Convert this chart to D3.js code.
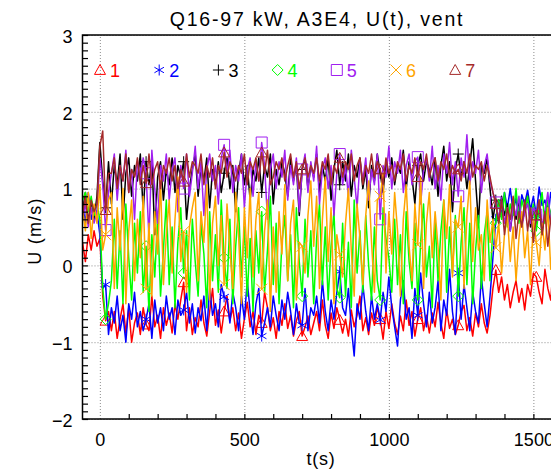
<!DOCTYPE html>
<html><head><meta charset="utf-8">
<script src="https://cdn.jsdelivr.net/npm/d3@7"></script>
<style>body{margin:0;background:#fff} svg{display:block} text{font-family:"Liberation Sans",Arial,sans-serif}</style>
</head><body><svg id="c" width="551" height="471"></svg>
<script>
const title = "Q16-97 kW, A3E4, U(t), vent";
const xLabel = "t(s)";
const yLabel = "U (m/s)";
const seriesNames = ["1","2","3","4","5","6","7"];
const seriesColors = ["#ff0000","#0000ff","#000000","#00ff00","#a020f0","#ffa500","#a52a2a"];
const seriesSymbols = ["triangle","asterisk","plus","diamond","square","cross","triangle"];
const tStart = -60, tStep = 10;
const markerTimes = [20,160,290,430,560,700,830,970,1100,1240,1370,1510];
const xTicks = [0,500,1000,1500];
const yTicks = [-2,-1,0,1,2,3];

const u1 = [
0.30,0.05,0.40,0.20,0.45,0.25,0.35,-0.40,-0.72,-0.60,
-0.85,-0.60,-0.95,-0.70,-0.50,-0.88,-0.55,-1.00,-0.75,-0.62,
-0.90,-0.55,-0.77,-0.85,-0.40,-0.80,-0.65,-0.95,-0.55,-0.78,
-0.62,-0.88,-0.50,-0.70,-0.45,-0.22,-0.85,-0.55,-0.90,-0.68,
-0.80,-0.45,-0.75,-0.92,-0.60,-0.30,-0.78,-0.58,-0.88,-0.60,
-0.40,-0.72,-0.55,-0.85,-0.62,-0.95,-0.70,-0.48,-0.80,-0.60,
-0.90,-0.65,-0.75,-0.35,-0.55,-0.85,-0.68,-0.95,-0.60,-0.78,
-0.50,-0.82,-0.65,-0.92,-0.72,-0.60,-0.92,-0.80,-0.66,-0.90,
-0.75,-0.60,-0.85,-0.45,-0.78,-0.95,-0.62,-0.82,-0.55,-0.71,
-0.88,-0.70,-0.92,-0.58,-0.80,-0.65,-0.40,-0.85,-0.68,-0.90,
-0.62,-0.78,-0.55,-0.70,-0.96,-0.60,-0.82,-0.50,-0.75,-0.90,
-0.66,-0.85,-0.45,-0.78,-0.60,-0.92,-0.70,-0.55,-0.85,-0.65,
-0.88,-0.62,-0.80,-0.48,-0.75,-0.95,-0.58,-0.82,-0.70,-0.90,
-0.78,-0.60,-0.52,-0.85,-0.68,-0.92,-0.62,-0.80,-0.50,-0.75,
-0.88,-0.65,-0.30,-0.06,-0.35,-0.15,-0.45,-0.25,-0.55,-0.35,
-0.20,-0.48,-0.30,-0.58,-0.25,-0.40,-0.10,-0.15,-0.35,-0.50,
-0.05,-0.30,-0.45,0.05];

const u2 = [
0.80,0.55,0.95,0.60,0.75,0.70,0.40,-0.30,-0.25,-0.90,
-0.55,-0.75,-0.40,-0.85,-0.65,-1.00,-0.50,-0.70,-0.35,-0.80,
-0.60,-0.85,-0.70,-0.50,-0.95,-0.45,-0.75,-0.55,-0.85,-0.40,
-0.70,-0.55,-0.90,-0.45,-0.65,-0.58,-0.35,-0.75,-0.50,-0.88,
-0.55,-0.72,-0.40,-0.85,-0.30,-0.65,-0.50,-0.80,-0.25,-0.41,
-0.45,-0.75,-0.35,-0.55,-0.85,-0.40,-0.70,-0.20,-0.60,-0.90,
-0.50,-0.30,-0.92,-0.75,-0.55,-0.80,-0.40,-0.65,-0.85,-0.45,
-0.70,-0.35,-0.60,-0.90,-0.50,-0.75,-0.78,-0.30,-0.85,-0.55,
-0.65,-0.40,-0.75,-0.20,-0.60,-0.85,-0.45,-0.70,-0.35,-0.08,
-0.55,-0.65,-0.30,-0.80,-1.18,-0.50,-0.70,-0.25,-0.60,-0.85,
-0.40,-0.70,-0.50,-0.71,-0.35,-0.60,-0.15,-0.55,-0.80,-1.05,
-0.45,-0.20,-0.70,-0.55,-0.95,-0.30,-0.65,-0.10,-0.50,-0.80,
-0.35,-0.75,-0.55,-0.20,-0.85,-0.45,-0.65,-0.05,-0.60,-0.90,
-0.10,-0.70,-0.25,-0.55,-0.85,-0.35,-0.60,-0.75,-0.15,-0.50,
-0.80,-0.40,0.10,0.60,0.85,0.65,0.95,0.75,1.00,0.70,
0.88,0.62,0.92,0.80,0.98,0.72,0.90,0.65,1.02,0.78,
0.85,0.60,0.95,0.75];

const u3 = [
0.70,0.95,0.55,0.85,0.60,0.90,1.60,1.10,0.75,1.35,
0.80,1.30,1.05,1.45,0.60,1.20,1.40,0.90,1.30,1.10,
1.45,0.70,1.35,1.05,1.40,0.40,1.15,1.35,0.85,1.25,
1.05,1.40,0.95,1.30,1.15,1.35,0.60,1.00,1.25,1.45,
0.90,1.30,1.10,1.40,0.75,1.25,1.05,1.35,0.95,1.20,
1.40,1.00,1.30,0.70,1.20,1.45,1.05,1.30,0.85,1.25,
1.10,1.40,0.95,1.30,1.15,1.45,0.80,1.25,1.05,1.35,
1.20,0.90,1.40,1.10,1.30,0.65,1.25,1.40,1.00,1.30,
1.15,1.45,0.95,1.30,1.10,1.40,0.85,1.25,1.50,1.05,
1.35,1.10,1.45,0.90,1.30,1.15,1.40,1.00,1.25,0.75,
1.30,1.10,1.45,1.20,0.95,1.35,1.15,1.40,1.05,1.30,
1.20,1.50,1.00,1.35,1.15,0.80,1.30,1.45,1.10,1.35,
1.25,1.05,1.40,0.90,1.30,1.55,1.10,1.35,0.70,1.25,
1.45,1.15,1.35,1.00,1.30,1.65,1.10,0.55,1.30,1.20,
1.40,1.00,0.60,0.85,0.55,0.90,0.65,0.80,0.45,0.75,
0.60,0.85,0.55,0.70,0.90,0.50,0.75,0.60,0.85,0.40,
0.70,0.80,0.55,0.75];

const u4 = [
0.85,0.95,0.70,0.90,0.65,0.80,0.60,-0.30,-0.70,-0.50,
-0.20,0.60,-0.30,0.45,-0.50,0.80,0.10,-0.45,0.55,-0.10,
0.70,-0.35,0.25,-0.60,0.40,-0.15,0.65,-0.40,0.20,0.85,
-0.25,0.50,-0.55,0.30,0.75,-0.10,0.45,-0.45,0.60,0.05,
-0.40,0.55,0.15,-0.55,0.70,-0.20,0.40,-0.35,0.85,0.10,
-0.30,0.60,-0.50,0.25,0.75,-0.15,0.50,-0.40,0.35,-0.60,
0.45,-0.10,0.70,-0.35,0.20,0.90,-0.25,0.55,-0.50,0.30,
0.65,-0.20,0.40,-0.55,0.75,0.05,-0.40,0.60,-0.15,0.45,
-0.50,0.35,0.80,-0.25,0.50,-0.45,0.25,0.70,-0.30,-0.42,
0.55,-0.40,0.30,-0.55,0.85,-0.10,0.45,-0.35,0.65,0.00,
-0.45,0.50,-0.20,-0.45,0.75,0.35,0.10,-0.35,0.60,-0.25,
0.40,-0.50,0.70,0.05,-0.30,0.55,-0.45,0.30,0.80,-0.15,
0.25,-0.55,0.60,-0.20,0.45,0.85,-0.35,0.50,-0.10,0.65,
-0.40,0.30,0.75,-0.25,0.55,-0.50,0.20,0.65,-0.30,0.40,
0.70,-0.20,0.50,0.55,0.85,0.60,0.95,0.50,0.80,0.65,
1.00,0.55,0.85,0.70,0.90,0.60,0.80,0.45,0.75,0.95,
0.55,0.85,0.65,0.90];

const u5 = [
0.60,0.80,0.50,0.75,0.55,0.70,1.40,1.05,0.46,0.95,
1.20,1.45,0.85,1.30,1.10,1.50,0.95,1.25,0.60,1.35,
1.15,1.40,1.20,0.35,1.50,1.00,0.55,1.30,1.10,1.45,
0.85,1.25,1.40,0.70,1.30,1.00,1.45,0.90,1.20,1.55,
1.00,1.35,0.65,1.25,1.45,1.10,1.30,0.80,1.40,1.57,
1.20,1.50,0.95,1.30,1.10,1.45,0.75,1.25,1.40,0.90,
1.35,1.10,1.60,1.30,0.60,1.25,1.45,1.00,1.35,1.15,
1.50,0.85,1.30,1.05,1.40,0.70,1.25,1.45,0.95,1.35,
1.10,1.55,0.80,1.25,1.40,1.00,1.30,0.65,1.20,1.45,
1.05,1.30,0.90,1.50,1.15,0.75,1.35,1.10,1.40,0.85,
1.25,1.05,1.45,0.60,1.30,1.15,1.55,1.00,1.35,1.20,
1.50,0.95,1.30,1.45,1.05,1.35,1.41,0.80,1.25,1.40,
1.10,1.55,1.00,1.30,0.85,1.45,1.20,1.60,1.05,1.35,
0.90,1.40,1.15,1.70,1.05,1.35,1.20,1.50,0.95,1.30,
1.45,1.10,0.95,0.82,0.60,0.85,0.55,0.75,0.45,0.80,
0.65,0.90,0.50,0.70,0.80,0.55,0.75,0.66,0.85,0.50,
0.70,0.95,0.55,0.75];

const u6 = [
0.75,0.45,0.95,0.35,0.80,0.55,1.05,0.20,0.40,0.85,
0.95,-0.30,0.75,0.20,1.00,-0.50,0.45,0.85,-0.20,0.60,
0.10,0.90,-0.31,0.55,-0.40,0.70,0.15,1.10,-0.25,0.40,
0.85,-0.10,0.60,1.15,0.05,0.44,-0.35,0.50,0.75,0.95,
-0.20,0.70,0.30,1.05,-0.45,0.55,0.90,0.00,0.65,-0.25,
0.80,0.20,-0.30,0.95,0.40,-0.50,0.75,0.10,1.00,-0.15,
0.60,0.95,-0.31,0.45,0.85,-0.60,0.50,-0.35,0.70,0.15,
1.05,-0.20,0.55,0.85,-0.45,0.30,0.25,-0.10,0.65,1.10,
0.25,0.90,-0.30,0.60,1.15,0.05,0.75,-0.50,0.40,0.14,
-0.15,0.55,1.00,0.20,-0.40,0.80,0.35,-0.25,0.65,1.10,
0.30,-0.35,0.85,0.90,1.20,-0.10,0.70,0.15,0.95,0.45,
-0.40,0.60,1.05,0.25,-0.20,0.80,0.27,1.15,-0.30,0.55,
0.95,0.10,0.70,0.25,-0.45,0.85,0.35,1.05,-0.15,0.60,
0.50,0.90,-0.30,0.65,1.10,0.05,0.75,0.20,0.40,-0.20,
0.85,0.30,0.60,0.23,0.55,-0.10,0.40,0.65,0.05,0.50,
-0.20,0.35,0.70,0.10,0.45,-0.25,0.60,0.30,0.00,0.55,
0.20,0.75,-0.05,0.40];

const u7 = [
0.65,0.90,0.55,0.85,0.70,0.80,1.55,1.75,0.72,1.20,
1.20,1.40,1.00,1.30,1.10,1.45,0.95,1.25,1.15,1.40,
1.05,1.30,1.07,1.45,1.05,1.25,1.35,1.00,1.30,1.20,
1.40,1.10,1.30,1.00,1.25,1.09,1.45,1.15,1.35,1.30,
1.20,1.45,1.05,1.30,1.15,1.40,1.00,1.30,1.20,1.47,
1.15,1.35,1.25,1.10,1.30,1.20,1.45,1.05,1.35,1.25,
1.40,1.10,1.47,1.20,1.50,1.05,1.15,1.35,1.25,1.40,
1.10,1.30,1.45,1.15,1.35,1.00,1.25,1.40,1.15,1.30,
1.20,1.40,1.10,1.35,1.25,1.45,1.05,1.30,1.20,1.40,
1.15,1.35,1.25,1.45,1.10,1.30,1.40,1.05,1.30,1.20,
1.45,1.15,1.35,1.25,1.05,1.40,1.20,1.30,1.10,1.35,
1.25,1.45,1.10,1.30,1.20,1.40,1.15,1.35,1.25,1.45,
1.15,1.30,1.40,1.10,1.35,1.25,1.45,1.15,1.30,1.20,
1.25,1.10,1.35,1.20,1.45,1.15,1.30,1.25,1.35,1.10,
1.30,1.15,0.95,0.80,0.55,0.85,0.40,0.75,0.60,0.90,
0.35,0.70,0.50,0.85,0.45,0.75,0.30,0.65,0.85,0.40,
0.70,0.25,0.60,0.80];

const seriesValues = [u1,u2,u3,u4,u5,u6,u7];
const lens = seriesValues.map(a => a.length);
if (lens.some(l => l !== lens[0])) throw new Error("length mismatch " + lens.join(","));

const L = 82.5, R = 556.5, T = 35, B = 419;
const x = d3.scaleLinear().domain([-60, 1580]).range([L, R]);
const y = d3.scaleLinear().domain([-2, 3]).range([B, T]);
const svg = d3.select("#c");
const FONT = '"Liberation Sans", Arial, sans-serif';

svg.append("defs").append("clipPath").attr("id","clip")
  .append("rect").attr("x",L).attr("y",T).attr("width",R-L).attr("height",B-T);

// gridlines
const gx = svg.append("g").attr("transform",`translate(0,${B})`)
  .call(d3.axisBottom(x).tickValues(xTicks).tickSize(-(B-T)).tickFormat(""));
const gy = svg.append("g").attr("transform",`translate(${L},0)`)
  .call(d3.axisLeft(y).tickValues(yTicks).tickSize(-(R-L)).tickFormat(""));
[gx,gy].forEach(g => {
  g.select(".domain").remove();
  g.selectAll(".tick line").attr("stroke","#8c8c8c").attr("stroke-width",1).attr("stroke-dasharray","1,2");
});

// data
const times = u1.map((_, i) => tStart + i * tStep);
const line = d3.line().x((d,i) => x(times[i])).y(d => y(d));
function sym(type, h) {
  switch (type) {
    case "triangle": return `M0,${-h}L${h},${h*0.8}L${-h},${h*0.8}Z`;
    case "square": return `M${-h},${-h}H${h}V${h}H${-h}Z`;
    case "diamond": return `M0,${-h}L${h},0L0,${h}L${-h},0Z`;
    case "plus": return `M${-h},0H${h}M0,${-h}V${h}`;
    case "cross": return `M${-h},${-h}L${h},${h}M${-h},${h}L${h},${-h}`;
    case "asterisk": { const a = h*Math.cos(Math.PI/6), b = h*0.5;
      return `M0,${-h}V${h}M${-a},${-b}L${a},${b}M${-a},${b}L${a},${-b}`; }
  }
}
const plot = svg.append("g").attr("clip-path","url(#clip)");
seriesValues.forEach((vals, k) => {
  plot.append("path").attr("d", line(vals)).attr("fill","none")
    .attr("stroke", seriesColors[k]).attr("stroke-width",1.5).attr("stroke-linejoin","round");
  markerTimes.forEach(mt => {
    const i = Math.round((mt - tStart) / tStep);
    if (i < 0 || i >= vals.length) return;
    plot.append("path").attr("d", sym(seriesSymbols[k], 5.5))
      .attr("transform",`translate(${x(times[i])},${y(vals[i])})`)
      .attr("fill","none").attr("stroke",seriesColors[k]).attr("stroke-width",1);
  });
});

// minor ticks (inward)
const xMinor = d3.range(100, 1600, 100);
const yMinor = d3.range(-20, 31).map(v => v/10);
const mx = svg.append("g").attr("transform",`translate(0,${B})`)
  .call(d3.axisBottom(x).tickValues(xMinor).tickSize(-5).tickFormat(""));
const my = svg.append("g").attr("transform",`translate(${L},0)`)
  .call(d3.axisLeft(y).tickValues(yMinor).tickSize(-5.5).tickFormat(""));
[mx,my].forEach(g => { g.select(".domain").remove(); g.selectAll(".tick line").attr("stroke","#000").attr("stroke-width",1.2); });

// frame
svg.append("path").attr("d",`M${R},${T}H${L}V${B}H${R}`).attr("fill","none").attr("stroke","#000").attr("stroke-width",1.5);

// tick labels
const fmt = d3.format("d");
const xl = svg.append("g").attr("transform",`translate(0,${B})`)
  .call(d3.axisBottom(x).tickValues(xTicks).tickSize(0).tickPadding(14).tickFormat(fmt));
const yl = svg.append("g").attr("transform",`translate(${L},0)`)
  .call(d3.axisLeft(y).tickValues(yTicks).tickSize(0).tickPadding(10).tickFormat(fmt));
[xl,yl].forEach(g => { g.select(".domain").remove(); g.selectAll("text").attr("font-family",FONT).attr("font-size",18).attr("fill","#000"); });
yl.selectAll("text").attr("dy","0.4em");

// titles
svg.append("text").attr("x",317).attr("y",26).attr("text-anchor","middle")
  .attr("font-size",19.5).attr("letter-spacing",1.8).text(title);
svg.append("text").attr("x",321).attr("y",465).attr("text-anchor","middle")
  .attr("font-size",18).attr("letter-spacing",0.8).text(xLabel);
svg.append("text").attr("transform","translate(41,231) rotate(-90)").attr("text-anchor","middle")
  .attr("font-size",18).attr("letter-spacing",1.2).text(yLabel);

// legend
seriesNames.forEach((n, k) => {
  const lx = 100 + k * 59.2, ly = 70;
  svg.append("path").attr("d", sym(seriesSymbols[k], 5.5))
    .attr("transform",`translate(${lx},${ly})`)
    .attr("fill","none").attr("stroke",seriesColors[k]).attr("stroke-width",1);
  svg.append("text").attr("x", lx + 10).attr("y", ly + 7).attr("font-size",18)
    .attr("fill", seriesColors[k]).text(n);
});
</script></body></html>
